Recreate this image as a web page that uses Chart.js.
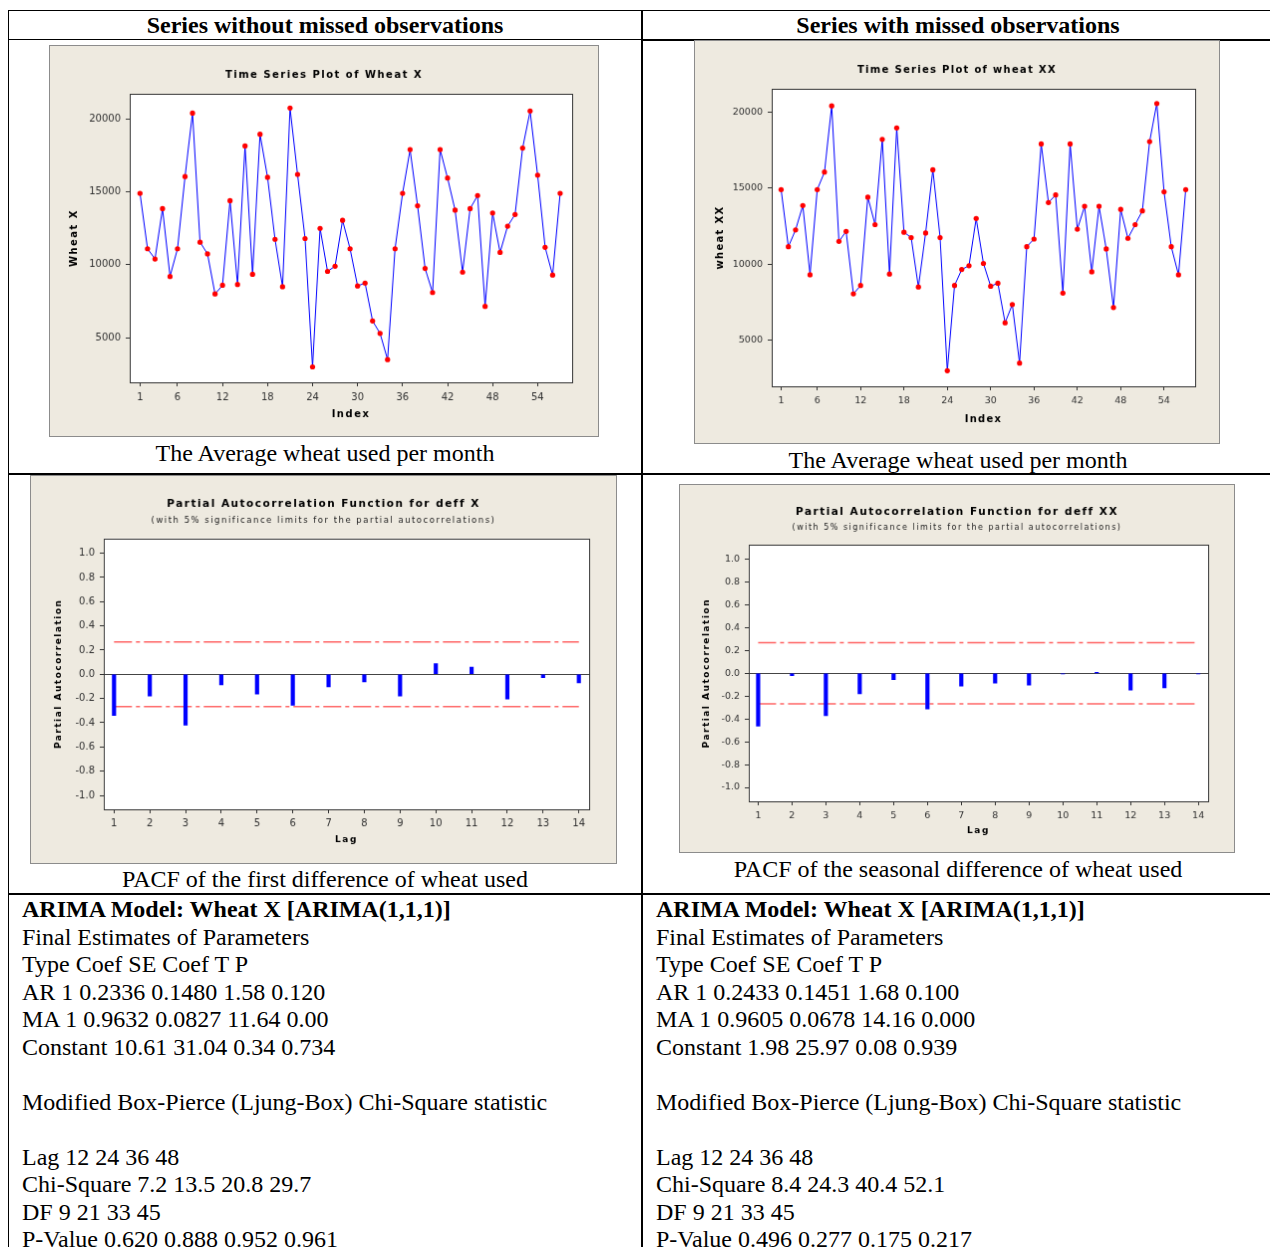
<!DOCTYPE html>
<html>
<head>
<meta charset="utf-8">
<title>Wheat series</title>
<script src="https://cdn.jsdelivr.net/npm/chart.js@4.4.1/dist/chart.umd.min.js"></script>
<style>
    body { margin: 0; background: #fff; }
    #page { position: relative; width: 1270px; height: 1247px; overflow: hidden; font-family: "Liberation Serif", "Times New Roman", serif; color: #000; }
    .ln { position: absolute; background: #000; }
    .hd { position: absolute; font-size: 24px; line-height: 28px; font-weight: bold; text-align: center; white-space: nowrap; }
    .cap { position: absolute; font-size: 24px; line-height: 28px; text-align: center; white-space: nowrap; }
    .txt { position: absolute; font-size: 24px; line-height: 27.5px; white-space: pre; }
    canvas { position: absolute; border: 1px solid #8c8c8c; }
</style>
</head>
<body>
<div id="page">
    <!-- table rules -->
    <div class="ln" style="left:8px; top:10px; width:1262px; height:1px;"></div>
    <div class="ln" style="left:8px; top:39px; width:634px; height:1px;"></div>
    <div class="ln" style="left:642px; top:39px; width:628px; height:2px;"></div>
    <div class="ln" style="left:8px; top:473px; width:1262px; height:2px;"></div>
    <div class="ln" style="left:8px; top:893px; width:1262px; height:2px;"></div>
    <div class="ln" style="left:8px; top:10px; width:1px; height:1237px;"></div>
    <div class="ln" style="left:641px; top:10px; width:2px; height:1237px;"></div>

    <div class="hd" style="left:8px; top:11px; width:634px;">Series without missed observations</div>
    <div class="hd" style="left:642px; top:11px; width:632px;">Series with missed observations</div>

    <canvas id="tsX" width="550" height="392" style="left:49px; top:45px;"></canvas>
    <canvas id="tsXX" width="526" height="404" style="left:694px; top:40px;"></canvas>
    <canvas id="pacfX" width="587" height="389" style="left:30px; top:475px;"></canvas>
    <canvas id="pacfXX" width="556" height="369" style="left:679px; top:484px;"></canvas>

    <div class="cap" style="left:8px; top:439px; width:634px;">The Average wheat used per month</div>
    <div class="cap" style="left:642px; top:446px; width:632px;">The Average wheat used per month</div>
    <div class="cap" style="left:8px; top:865px; width:634px;">PACF of the first difference of wheat used</div>
    <div class="cap" style="left:642px; top:855px; width:632px;">PACF of the seasonal difference of wheat used</div>

    <div class="txt" style="left:22px; top:896px;"><b>ARIMA Model: Wheat X [ARIMA(1,1,1)]</b>
Final Estimates of Parameters
Type Coef SE Coef T P
AR 1 0.2336 0.1480 1.58 0.120
MA 1 0.9632 0.0827 11.64 0.00
Constant 10.61 31.04 0.34 0.734

Modified Box-Pierce (Ljung-Box) Chi-Square statistic

Lag 12 24 36 48
Chi-Square 7.2 13.5 20.8 29.7
DF 9 21 33 45
P-Value 0.620 0.888 0.952 0.961</div>
    <div class="txt" style="left:656px; top:896px;"><b>ARIMA Model: Wheat X [ARIMA(1,1,1)]</b>
Final Estimates of Parameters
Type Coef SE Coef T P
AR 1 0.2433 0.1451 1.68 0.100
MA 1 0.9605 0.0678 14.16 0.000
Constant 1.98 25.97 0.08 0.939

Modified Box-Pierce (Ljung-Box) Chi-Square statistic

Lag 12 24 36 48
Chi-Square 8.4 24.3 40.4 52.1
DF 9 21 33 45
P-Value 0.496 0.277 0.175 0.217</div>
</div>

<script>
// ==============================
// data
// ==============================

const wheatX = [14900, 11100, 10400, 13850, 9200, 11100, 16050, 20400, 11550, 10750,
    8000, 8600, 14400, 8650, 18150, 9350, 18950, 16000, 11750, 8500,
    20750, 16200, 11800, 3000, 12500, 9550, 9900, 13050, 11100, 8550,
    8750, 6150, 5300, 3500, 11100, 14900, 17900, 14050, 9750, 8100,
    17900, 15950, 13750, 9500, 13850, 14750, 7150, 13550, 10850, 12650,
    13450, 18000, 20550, 16150, 11200, 9300, 14900];

const wheatXX = [14900, 11150, 12250, 13850, 9300, 14900, 16050, 20400, 11500, 12150,
    8050, 8600, 14400, 12600, 18200, 9350, 18950, 12100, 11750, 8500,
    12050, 16200, 11750, 3000, 8600, 9650, 9900, 13000, 10050, 8550,
    8750, 6150, 7350, 3500, 11150, 11650, 17900, 14050, 14550, 8100,
    17900, 12300, 13800, 9500, 13800, 11000, 7150, 13600, 11700, 12600,
    13500, 18050, 20550, 14750, 11150, 9300, 14900];

const indexTicks = [1, 6, 12, 18, 24, 30, 36, 42, 48, 54];
const wheatTicks = [5000, 10000, 15000, 20000];

const lags = [1, 2, 3, 4, 5, 6, 7, 8, 9, 10, 11, 12, 13, 14];
const pacfDeffX = [-0.34, -0.18, -0.42, -0.088, -0.164, -0.255, -0.104, -0.063, -0.18, 0.088, 0.06, -0.205, -0.027, -0.071];
const pacfDeffXX = [-0.464, -0.02, -0.371, -0.18, -0.055, -0.313, -0.113, -0.087, -0.104, -0.006, 0.009, -0.148, -0.128, -0.006];
const limitDeffX = 0.267;
const limitDeffXX = 0.268;
const pacfTicks = [-1.0, -0.8, -0.6, -0.4, -0.2, 0.0, 0.2, 0.4, 0.6, 0.8, 1.0];

// ==============================
// common look (Minitab style)
// ==============================

Chart.defaults.font.family = "'DejaVu Sans', Verdana, sans-serif";
Chart.defaults.color = '#333';

const minitabPanel = {
    id: 'minitabPanel',
    beforeDraw(chart, args, opts) {
        const { ctx, chartArea: a, width, height } = chart;
        ctx.save();
        ctx.fillStyle = '#eeeae0';
        ctx.fillRect(0, 0, width, height);
        ctx.fillStyle = '#ffffff';
        ctx.fillRect(a.left, a.top, a.right - a.left, a.bottom - a.top);
        ctx.restore();
        // titles are letter-spaced, tick labels (drawn later, z:1) are not
        ctx.letterSpacing = (opts.spacing || 1) + 'px';
    },
    beforeDatasetsDraw(chart) {
        chart.ctx.letterSpacing = '0px';
    },
    afterDraw(chart) {
        const { ctx, chartArea: a } = chart;
        ctx.save();
        ctx.strokeStyle = '#333';
        ctx.lineWidth = 1;
        ctx.strokeRect(Math.round(a.left) + 0.5, Math.round(a.top) + 0.5,
            Math.round(a.right - a.left), Math.round(a.bottom - a.top));
        ctx.restore();
    }
};

function axisTicks(list) {
    return scale => { scale.ticks = list.map(v => ({ value: v })); };
}

// side padding is kept equal so the title centres on the whole panel;
// the y axis box takes the rest of the left margin
function sidePadding(cfg) {
    return { left: cfg.pad, right: cfg.pad, top: 0, bottom: 0 };
}

// ==============================
// time series plot
// ==============================

function createSeriesChart(canvasId, values, cfg) {
    const ctx = document.getElementById(canvasId);
    if (!ctx) return null;

    return new Chart(ctx, {
        type: 'line',
        data: {
            datasets: [{
                data: values.map((v, i) => ({ x: i + 1, y: v })),
                borderColor: '#0000ff',
                borderWidth: 1,
                tension: 0,
                pointRadius: 2.6,
                pointBackgroundColor: '#ff0000',
                pointBorderColor: '#ff0000',
                pointBorderWidth: 0
            }]
        },
        options: {
            responsive: false,
            animation: false,
            devicePixelRatio: 1,
            layout: { padding: sidePadding(cfg) },
            plugins: {
                minitabPanel: { spacing: cfg.spacing },
                legend: { display: false },
                tooltip: { enabled: false },
                title: {
                    display: true,
                    text: cfg.title,
                    color: '#000',
                    font: { size: 10, weight: 'bold' },
                    padding: { top: cfg.titleTop, bottom: cfg.titleBottom }
                }
            },
            scales: {
                x: {
                    type: 'linear',
                    bounds: 'data',
                    offset: false,
                    min: cfg.xMin,
                    max: cfg.xMax,
                    afterBuildTicks: axisTicks(indexTicks),
                    afterFit: s => { s.height = cfg.xAxisH; },
                    ticks: { z: 1, padding: 5, maxRotation: 0, autoSkip: false, color: '#333', font: { size: cfg.tickSize }, callback: v => String(v) },
                    grid: { drawOnChartArea: false, tickLength: 4, color: '#333', offset: false },
                    border: { display: false },
                    title: { display: true, text: 'Index', color: '#000', font: { size: 10, weight: 'bold' }, padding: { top: 0, bottom: cfg.xTitlePad } }
                },
                y: {
                    type: 'linear',
                    bounds: 'data',
                    min: cfg.yMin,
                    max: cfg.yMax,
                    afterBuildTicks: axisTicks(wheatTicks),
                    afterFit: s => { s.width = cfg.areaLeft - cfg.pad; },
                    ticks: { z: 1, padding: 5, color: '#333', font: { size: cfg.tickSize }, callback: v => String(v) },
                    grid: { drawOnChartArea: false, tickLength: 4, color: '#333' },
                    border: { display: false },
                    title: { display: true, text: cfg.yTitle, color: '#000', font: { size: 10, weight: 'bold' }, padding: { top: cfg.yTitleX - 6 - cfg.pad, bottom: 0 } }
                }
            }
        },
        plugins: [minitabPanel]
    });
}

// ==============================
// partial autocorrelation plot
// ==============================

function createPacfChart(canvasId, values, limit, cfg) {
    const ctx = document.getElementById(canvasId);
    if (!ctx) return null;

    const limitLine = sign => ({
        type: 'line',
        data: [{ x: lags[0], y: sign * limit }, { x: lags[lags.length - 1], y: sign * limit }],
        borderColor: '#ff6464',
        borderWidth: 1.5,
        borderDash: [18, 4, 4, 4],
        pointRadius: 0
    });

    return new Chart(ctx, {
        type: 'bar',
        data: {
            datasets: [
                {
                    type: 'bar',
                    data: lags.map((l, i) => ({ x: l, y: values[i] })),
                    backgroundColor: '#0000ff',
                    barThickness: 3.5
                },
                limitLine(1),
                limitLine(-1)
            ]
        },
        options: {
            responsive: false,
            animation: false,
            devicePixelRatio: 1,
            layout: { padding: sidePadding(cfg) },
            plugins: {
                minitabPanel: { spacing: 1.5 },
                legend: { display: false },
                tooltip: { enabled: false },
                title: {
                    display: true,
                    text: cfg.title,
                    color: '#000',
                    font: { size: 10.5, weight: 'bold' },
                    padding: { top: cfg.titleTop, bottom: 0 }
                },
                subtitle: {
                    display: true,
                    text: '(with 5% significance limits for the partial autocorrelations)',
                    color: '#222',
                    font: { size: cfg.subSize },
                    padding: { top: cfg.subTop, bottom: cfg.subBottom }
                }
            },
            scales: {
                x: {
                    type: 'linear',
                    bounds: 'data',
                    offset: false,
                    min: cfg.xMin,
                    max: cfg.xMax,
                    afterBuildTicks: axisTicks(lags),
                    afterFit: s => { s.height = cfg.xAxisH; },
                    ticks: { z: 1, padding: 4.5, maxRotation: 0, autoSkip: false, color: '#333', font: { size: cfg.tickSize }, callback: v => String(v) },
                    grid: { drawOnChartArea: false, tickLength: 4, color: '#333', offset: false },
                    border: { display: false },
                    title: { display: true, text: 'Lag', color: '#000', font: { size: 9, weight: 'bold' }, padding: { top: 0, bottom: cfg.xTitlePad } }
                },
                y: {
                    type: 'linear',
                    bounds: 'data',
                    min: cfg.yMin,
                    max: cfg.yMax,
                    afterBuildTicks: axisTicks(pacfTicks),
                    afterFit: s => { s.width = cfg.areaLeft - cfg.pad; },
                    ticks: { z: 1, padding: 5, color: '#333', font: { size: cfg.tickSize }, callback: v => v.toFixed(1) },
                    grid: {
                        drawOnChartArea: true,
                        tickLength: 4,
                        tickColor: '#333',
                        color: c => (c.tick && c.tick.value === 0) ? '#444' : 'rgba(0,0,0,0)'
                    },
                    border: { display: false },
                    title: { display: true, text: 'Partial Autocorrelation', color: '#000', font: { size: 9, weight: 'bold' }, padding: { top: cfg.yTitleX - 5.4 - cfg.pad, bottom: 0 } }
                }
            }
        },
        plugins: [minitabPanel]
    });
}

createSeriesChart('tsX', wheatX, {
    title: 'Time Series Plot of Wheat X', yTitle: 'Wheat X', spacing: 1.5,
    xMin: -0.37, xMax: 58.6, yMin: 1944, yMax: 21726,
    pad: 26, areaLeft: 80, titleTop: 23, titleBottom: 13,
    xAxisH: 54, yTitleX: 24, xTitlePad: 16, tickSize: 10
});

createSeriesChart('tsXX', wheatXX, {
    title: 'Time Series Plot of wheat XX', yTitle: 'wheat XX', spacing: 1.3,
    xMin: -0.3, xMax: 58.3, yMin: 1977, yMax: 21521,
    pad: 24, areaLeft: 77, titleTop: 23, titleBottom: 13,
    xAxisH: 57, yTitleX: 25, xTitlePad: 18, tickSize: 9.5
});

createPacfChart('pacfX', pacfDeffX, limitDeffX, {
    title: 'Partial Autocorrelation Function for deff X', subSize: 8.5,
    xMin: 0.713, xMax: 14.287, yMin: -1.115, yMax: 1.123,
    pad: 27, areaLeft: 73, titleTop: 22, subTop: 5, subBottom: 12.8,
    xAxisH: 54, yTitleX: 27.4, xTitlePad: 17.6, tickSize: 10
});

createPacfChart('pacfXX', pacfDeffXX, limitDeffXX, {
    title: 'Partial Autocorrelation Function for deff XX', subSize: 8,
    xMin: 0.723, xMax: 14.29, yMin: -1.122, yMax: 1.124,
    pad: 26, areaLeft: 69, titleTop: 21, subTop: 5, subBottom: 12.2,
    xAxisH: 51, yTitleX: 26.7, xTitlePad: 15.6, tickSize: 9.5
});
</script>
</body>
</html>
